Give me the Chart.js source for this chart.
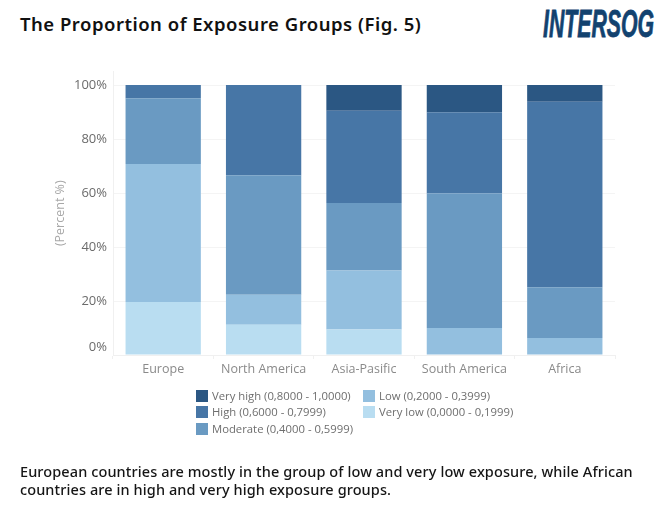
<!DOCTYPE html>
<html>
<head>
<meta charset="utf-8">
<script src="https://cdn.jsdelivr.net/npm/chart.js@4"></script>
<style>
  html, body { margin: 0; padding: 0; background: #fff; }
  #page { position: relative; width: 669px; height: 512px; overflow: hidden; }
  #page canvas { position: absolute; left: 0; top: 0; }
  .title { position: absolute; left: 20px; top: 11px; font: 600 18.5px "Noto Sans", sans-serif; letter-spacing: 0.5px; color: #111; white-space: nowrap; }
  .logo { position: absolute; left: 543px; top: 3px; font: italic 700 38px "Liberation Sans", sans-serif; color: #12426f; white-space: nowrap; transform-origin: left top; transform: scaleX(0.56); -webkit-text-stroke: 0.8px #12426f; }
  .note { position: absolute; left: 20px; top: 463px; width: 645px; font: 500 14.5px/17.5px "Noto Sans", sans-serif; letter-spacing: 0.1px; color: #151515; }
  .legend-item { position: absolute; font: 11.3px "Open Sans", sans-serif; color: #6e6e6e; white-space: nowrap; line-height: 12px; }
  .legend-item i { display: inline-block; width: 12px; height: 12px; margin-right: 4px; vertical-align: top; }
</style>
</head>
<body>
<div id="page">
  <div class="title">The Proportion of Exposure Groups (Fig. 5)</div>
  <div class="logo">INTERSOG</div>
  <canvas id="chart" width="669" height="512"></canvas>
  <div id="legend"></div>
  <div class="note">European countries are mostly in the group of low and very low exposure, while African<br>countries are in high and very high exposure groups.</div>
</div>
<script>
const regions = ["Europe", "North America", "Asia-Pasific", "South America", "Africa"];

// percent share per region
const veryLow  = [19.6, 11.2, 9.4, 0, 0];
const low      = [51.1, 11.1, 21.9, 10, 6.3];
const moderate = [24.4, 44.3, 25, 49.9, 18.8];
const high     = [4.9, 33.4, 34.2, 30, 68.7];
const veryHigh = [0, 0, 9.5, 10.1, 6.2];

const groupLabels = [
  "Very high (0,8000 - 1,0000)",
  "High (0,6000 - 0,7999)",
  "Moderate (0,4000 - 0,5999)",
  "Low (0,2000 - 0,3999)",
  "Very low (0,0000 - 0,1999)"
];
const groupColors = ["#2b5783", "#4776a6", "#6a9ac2", "#93bfdf", "#b9ddf1"];
const groupValues = [veryHigh, high, moderate, low, veryLow];

const yTicks = [0, 20, 40, 60, 80, 100];

// bottom segment first so the stack reads like the original
const datasets = groupLabels.map((label, i) => ({
  label: label,
  data: groupValues[i],
  backgroundColor: groupColors[i],
  barPercentage: 0.75,
  categoryPercentage: 1
})).reverse();

// Tableau nudges the 0% label up so it stays clear of the axis
const zeroLabel = {
  id: "zeroLabel",
  afterDraw(chart) {
    const y = chart.scales.y;
    const ctx = chart.ctx;
    ctx.save();
    ctx.font = '13px "Open Sans", sans-serif';
    ctx.fillStyle = "#6b6b6b";
    ctx.textAlign = "right";
    ctx.textBaseline = "middle";
    ctx.fillText("0%", y.right - 6, y.getPixelForValue(0) - 8);
    ctx.restore();
  }
};

new Chart(document.getElementById("chart"), {
  type: "bar",
  data: { labels: regions, datasets: datasets },
  plugins: [zeroLabel],
  options: {
    responsive: false,
    animation: false,
    layout: { padding: { top: 71.5, right: 54, left: 0, bottom: 0 } },
    plugins: { legend: { display: false }, tooltip: { enabled: false } },
    scales: {
      x: {
        stacked: true,
        afterFit(scale) { scale.height = 157; },
        grid: { offset: true, drawOnChartArea: false, drawTicks: true, tickLength: 4, color: "#f0f0f0" },
        border: { color: "#f0f0f0" },
        ticks: { color: "#8a8a8a", font: { family: "Open Sans", size: 12.5 }, padding: 3, maxRotation: 0 }
      },
      y: {
        stacked: true,
        min: 0,
        max: 105,
        afterFit(scale) { scale.width = 113; },
        afterBuildTicks(scale) { scale.ticks = yTicks.map(v => ({ value: v })); },
        grid: { color: "#f4f4f4", drawTicks: false },
        border: { color: "#f0f0f0" },
        title: { display: true, text: "(Percent %)", color: "#a8a8a8", font: { family: "Open Sans", size: 12.5 }, padding: { top: 53, bottom: 0 } },
        ticks: {
          color: ctx => ctx.tick.value === 0 ? "rgba(0,0,0,0)" : "#6b6b6b",
          font: { family: "Open Sans", size: 13 },
          padding: 6,
          callback: v => v + "%"
        }
      }
    }
  }
});

// legend in two columns, same order as the original
const legendSpots = [[196, 390], [196, 406], [196, 423], [363, 390], [363, 406]];
const legendBox = document.getElementById("legend");
groupLabels.forEach((label, i) => {
  const item = document.createElement("div");
  item.className = "legend-item";
  item.style.left = legendSpots[i][0] + "px";
  item.style.top = legendSpots[i][1] + "px";
  item.innerHTML = '<i style="background:' + groupColors[i] + '"></i>' + label;
  legendBox.appendChild(item);
});
</script>
</body>
</html>
